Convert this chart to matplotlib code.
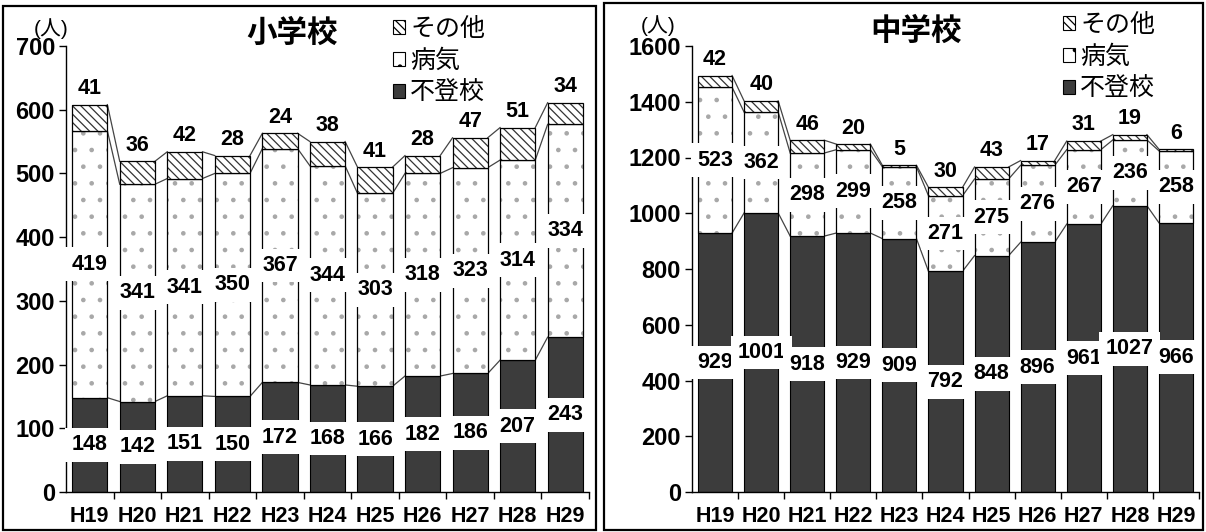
import matplotlib
matplotlib.use("Agg")
import matplotlib.pyplot as plt
from matplotlib.patches import Patch, Rectangle
import numpy as np

plt.rcParams['font.family'] = ['Liberation Sans', 'Noto Sans CJK JP', 'DejaVu Sans']
plt.rcParams['hatch.linewidth'] = 0.9

years = ['H19', 'H20', 'H21', 'H22', 'H23', 'H24', 'H25', 'H26', 'H27', 'H28', 'H29']

# 小学校
elem_futoko = [148, 142, 151, 150, 172, 168, 166, 182, 186, 207, 243]
elem_byoki = [419, 341, 341, 350, 367, 344, 303, 318, 323, 314, 334]
elem_sonota = [41, 36, 42, 28, 24, 38, 41, 28, 47, 51, 34]

# 中学校
jun_futoko = [929, 1001, 918, 929, 909, 792, 848, 896, 961, 1027, 966]
jun_byoki = [523, 362, 298, 299, 258, 271, 275, 276, 267, 236, 258]
jun_sonota = [42, 40, 46, 20, 5, 30, 43, 17, 31, 19, 6]

series_names = ['その他', '病気', '不登校']

W, H = 1206, 532
fig = plt.figure(figsize=(W / 100, H / 100), dpi=100)
fig.patch.set_facecolor('white')

DARK = '#3c3c3c'
BW = 0.74
NUM_FS = 15.5
NUM_W = 'bold'


def px_axes(x0, x1, y0, y1):
    return fig.add_axes([x0 / W, 1 - y1 / H, (x1 - x0) / W, (y1 - y0) / H])


def draw_panel(ax, fut, byo, son, ymax, ystep):
    fut = np.array(fut)
    byo = np.array(byo)
    son = np.array(son)
    x = np.arange(len(years))
    # bars
    ax.bar(x, fut, BW, color=DARK, edgecolor='black', linewidth=0.8, zorder=2)
    ax.bar(x, byo, BW, bottom=fut, color='white', edgecolor='#a8a8a8', hatch='.',
           linewidth=0, zorder=2)
    ax.bar(x, byo, BW, bottom=fut, fill=False, edgecolor='black', linewidth=0.9, zorder=2)
    ax.bar(x, son, BW, bottom=fut + byo, color='white', edgecolor='#333333', hatch='\\\\\\\\',
           linewidth=0, zorder=2)
    ax.bar(x, son, BW, bottom=fut + byo, fill=False, edgecolor='black', linewidth=0.9, zorder=2)
    # series lines
    for level in (fut, fut + byo, fut + byo + son):
        for i in range(len(x) - 1):
            ax.plot([x[i] + BW / 2, x[i + 1] - BW / 2], [level[i], level[i + 1]],
                    color='#444444', lw=0.9, zorder=1)
    # labels
    box = dict(boxstyle='square,pad=0.3', facecolor='white', edgecolor='none')
    for i in range(len(x)):
        ax.text(x[i], fut[i] / 2, str(fut[i]), ha='center', va='center', fontsize=NUM_FS,
                fontweight=NUM_W, bbox=box, zorder=4)
        ax.text(x[i], fut[i] + byo[i] / 2, str(byo[i]), ha='center', va='center',
                fontsize=NUM_FS, fontweight=NUM_W, bbox=box, zorder=4)
        ax.annotate(str(son[i]), (x[i], fut[i] + byo[i] + son[i]), xytext=(0, 4),
                    textcoords='offset points', ha='center', va='bottom', fontsize=NUM_FS,
                    fontweight=NUM_W, zorder=4)
    ax.set_xlim(-0.5, len(years) - 0.5)
    ax.set_ylim(0, ymax)
    ax.set_yticks(np.arange(0, ymax + 1, ystep))
    ax.set_xticks(x)
    ax.set_xticklabels(years, fontweight=NUM_W)
    ax.set_yticklabels([str(v) for v in np.arange(0, ymax + 1, ystep)], fontweight=NUM_W)
    ax.set_xticks(np.arange(0.5, len(years), 1.0), minor=True)
    ax.tick_params(axis='x', which='major', length=0, pad=10, labelsize=NUM_FS)
    ax.tick_params(axis='x', which='minor', length=5, width=1, direction='out')
    ax.tick_params(axis='y', length=5, width=1, pad=3, labelsize=17)
    for s in ('top', 'right'):
        ax.spines[s].set_visible(False)
    for s in ('left', 'bottom'):
        ax.spines[s].set_linewidth(1.0)
    ax.set_facecolor('none')


ax1 = px_axes(66, 589, 46, 492)
draw_panel(ax1, elem_futoko, elem_byoki, elem_sonota, 700, 100)
ax2 = px_axes(692, 1199, 46, 492)
draw_panel(ax2, jun_futoko, jun_byoki, jun_sonota, 1600, 200)

# titles and unit labels
fig.text(292 / W, 1 - 34 / H, '小学校', ha='center', va='center', fontsize=22,
         fontweight='bold')
fig.text(916 / W, 1 - 32 / H, '中学校', ha='center', va='center', fontsize=22,
         fontweight='bold')
fig.text(51 / W, 1 - 29 / H, '(人)', ha='center', va='center', fontsize=15)
fig.text(658 / W, 1 - 26 / H, '(人)', ha='center', va='center', fontsize=15)


def legend_handles():
    return [Patch(facecolor='white', edgecolor='black', hatch='\\\\\\\\', linewidth=0.8),
            Patch(facecolor='white', edgecolor='black', hatch='.', linewidth=0.8),
            Patch(facecolor=DARK, edgecolor='black', linewidth=0.8)]


for ax, (lx, ly) in ((ax1, (390, 14)), (ax2, (1060, 10))):
    fig.legend(legend_handles(), series_names, loc='upper left',
               bbox_to_anchor=(lx / W, 1 - ly / H), frameon=False, fontsize=18,
               handlelength=0.5, handleheight=0.5, handletextpad=0.2,
               labelspacing=0.32, borderpad=0.1, borderaxespad=0)

# panel frames
fig.add_artist(Rectangle((3 / W, 1 - 530 / H), 593 / W, 524 / H, transform=fig.transFigure,
                         fill=False, edgecolor='black', linewidth=1.6))
fig.add_artist(Rectangle((604 / W, 1 - 530 / H), 599 / W, 527 / H, transform=fig.transFigure,
                         fill=False, edgecolor='black', linewidth=1.6))

fig.savefig('out.png', dpi=100)
